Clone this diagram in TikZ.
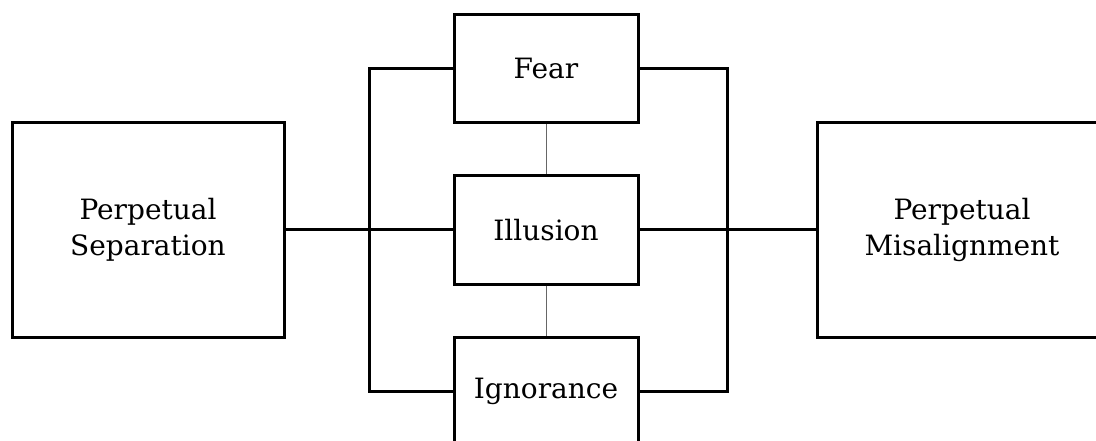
\documentclass[tikz,border=0pt]{standalone}
\usepackage{fontspec}
\setmainfont{DejaVu Serif}
\begin{document}
\begin{tikzpicture}[x=1pt,y=1pt,
  box/.style={draw=black,line width=3pt,rectangle,inner sep=0pt,align=center,
    font=\fontsize{28}{36}\selectfont},
  conn/.style={draw=black,line width=3pt},
  thin/.style={draw=black!60,line width=1pt}]
\useasboundingbox (0,0) rectangle (1096,-441);
\clip (0,0) rectangle (1096,-441);
\node[box,minimum width=272pt,minimum height=214pt] (sep) at (148,-230) {Perpetual\\Separation};
\node[box,minimum width=290pt,minimum height=214pt] (mis) at (962,-230) {Perpetual\\Misalignment};
\node[box,minimum width=184pt,minimum height=108pt] (fear) at (546,-68.5) {Fear};
\node[box,minimum width=184pt,minimum height=108pt] (ill) at (546,-230) {Illusion};
\node[box,minimum width=184pt,minimum height=108pt] (ign) at (546,-391.5) {Ignorance};
\coordinate (lt) at (369.5,-68.5);
\coordinate (rt) at (727.5,-68.5);
\draw[thin] (fear.south) -- (ill.north);
\draw[thin] (ill.south) -- (ign.north);
\draw[conn] (sep.east) -- (ill.west);
\draw[conn] (ill.east) -- (mis.west);
\draw[conn,line join=miter] (fear.west) -- (lt) |- (ign.west);
\draw[conn,line join=miter] (fear.east) -- (rt) |- (ign.east);
\end{tikzpicture}
\end{document}
